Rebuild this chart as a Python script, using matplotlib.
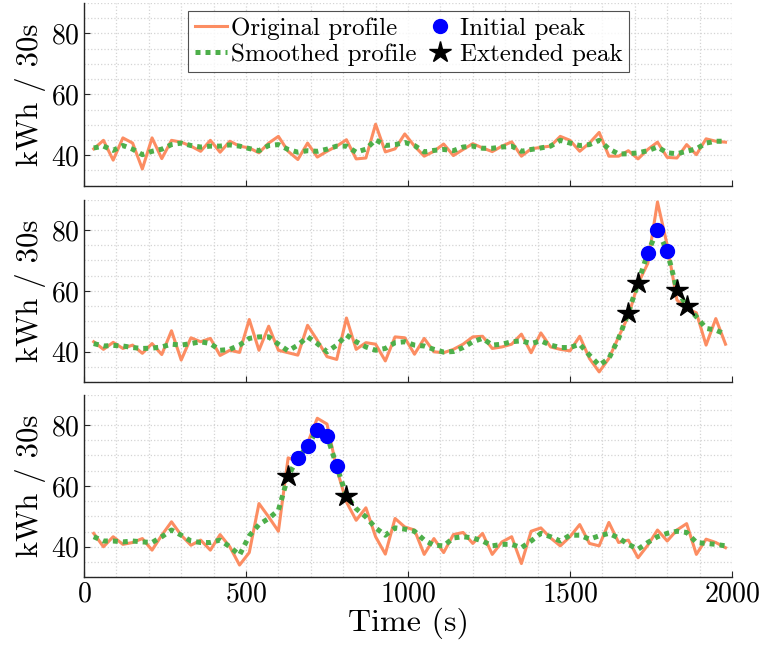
import numpy as np
import matplotlib
matplotlib.use("Agg")
import matplotlib.pyplot as plt

plt.rcParams['font.family'] = 'serif'
plt.rcParams['font.serif'] = ['cmr10']
plt.rcParams['mathtext.fontset'] = 'cm'
plt.rcParams['axes.formatter.use_mathtext'] = True

### Data (kWh per 30 s interval)
t = np.arange(30, 1981, 30)

orig_1 = [42.1, 44.9, 38.4, 45.7, 44.0, 35.5, 45.7, 38.9, 44.9, 44.3,
          43.0, 41.3, 44.9, 41.0, 44.6, 43.0, 42.4, 40.8, 44.0, 46.2,
          41.3, 38.6, 44.0, 39.4, 41.3, 43.0, 45.1, 38.8, 39.1, 50.2,
          41.1, 42.1, 47.0, 43.0, 39.7, 41.3, 43.7, 39.9, 41.9, 43.8,
          42.4, 41.2, 43.0, 44.4, 39.7, 42.1, 42.6, 43.0, 46.2, 44.9,
          41.3, 44.0, 47.5, 39.7, 39.7, 41.5, 38.8, 41.9, 44.3, 39.3,
          39.1, 43.5, 40.2, 45.4, 44.6, 44.3]
smooth_1 = [42.4, 43.0, 41.6, 43.2, 42.0, 40.2, 41.3, 42.0, 43.5, 44.0,
            43.2, 42.7, 43.0, 43.0, 43.4, 43.0, 42.2, 41.5, 43.2, 43.5,
            41.9, 41.0, 41.5, 41.3, 42.0, 43.0, 43.0, 41.0, 42.0, 45.1,
            43.2, 43.5, 44.2, 43.2, 41.1, 41.6, 41.9, 41.5, 42.7, 43.0,
            42.3, 42.3, 42.7, 43.0, 41.3, 41.9, 42.4, 43.0, 44.9, 44.0,
            43.2, 43.5, 44.9, 42.1, 40.4, 40.5, 40.8, 41.5, 42.7, 40.8,
            40.5, 41.3, 42.1, 44.0, 44.6, 44.6]

orig_2 = [43.3, 40.8, 43.1, 41.1, 42.2, 39.5, 42.7, 39.1, 46.9, 37.3,
          44.6, 43.3, 44.4, 38.8, 40.5, 39.8, 50.6, 40.5, 48.4, 40.5,
          39.7, 38.9, 48.7, 43.8, 38.4, 37.5, 51.1, 40.8, 43.0, 42.5,
          37.0, 44.9, 44.6, 39.2, 44.4, 40.0, 39.7, 40.8, 42.5, 44.9,
          45.1, 41.1, 41.6, 42.5, 45.8, 39.7, 46.2, 41.6, 40.8, 40.3,
          45.1, 37.8, 33.4, 37.8, 44.9, 51.7, 62.4, 69.0, 89.2, 75.0,
          57.0, 54.2, 52.8, 42.2, 50.9, 42.5]
smooth_2 = [42.7, 41.9, 42.1, 41.9, 41.4, 41.1, 41.2, 41.6, 42.5, 42.2,
            42.7, 43.3, 42.7, 40.5, 40.8, 42.2, 44.4, 44.9, 44.9, 42.5,
            40.3, 42.2, 44.9, 42.7, 40.0, 42.2, 45.5, 43.3, 41.6, 40.5,
            41.1, 43.0, 43.3, 42.2, 41.9, 40.8, 39.9, 40.1, 41.4, 43.3,
            44.4, 42.2, 42.5, 43.3, 43.6, 42.7, 43.6, 42.2, 41.4, 41.4,
            42.5, 38.9, 35.6, 37.8, 44.4, 52.8, 62.6, 72.5, 80.1, 73.0,
            60.4, 55.0, 51.5, 47.7, 47.1, 45.8]

orig_3 = [44.4, 40.0, 43.3, 40.8, 41.4, 42.7, 38.9, 43.8, 48.2, 43.8,
          40.5, 42.2, 38.9, 44.0, 40.0, 34.0, 38.1, 54.2, 49.8, 45.1,
          69.2, 68.0, 74.0, 82.2, 80.3, 65.6, 54.7, 48.7, 52.8, 43.3,
          37.6, 49.3, 46.5, 45.5, 37.5, 42.7, 38.1, 44.0, 44.7, 41.1,
          44.4, 37.5, 41.6, 43.3, 34.5, 45.1, 46.2, 42.9, 40.3, 43.3,
          47.3, 41.1, 40.3, 48.0, 41.4, 42.2, 36.4, 40.5, 45.5, 41.9,
          45.5, 47.6, 37.5, 42.5, 41.4, 39.7]
smooth_3 = [43.3, 41.9, 41.9, 41.6, 41.9, 41.6, 41.4, 43.3, 45.5, 43.8,
            41.9, 41.4, 41.4, 42.2, 40.0, 37.3, 43.6, 47.3, 49.3, 52.0,
            63.2, 69.2, 73.0, 78.5, 76.5, 66.5, 56.7, 52.5, 49.8, 46.2,
            43.8, 46.2, 45.8, 45.1, 42.2, 40.5, 40.3, 42.9, 43.3, 42.9,
            41.9, 40.3, 40.8, 40.8, 39.7, 41.9, 44.4, 43.3, 41.9, 43.8,
            43.8, 42.5, 43.6, 44.4, 42.9, 40.8, 39.2, 41.4, 43.3, 44.4,
            45.1, 44.7, 41.4, 41.1, 40.8, 40.3]

# peak times for panels 2 and 3 (markers sit on the smoothed profile)
initial_2 = [1740, 1770, 1800]
extended_2 = [1680, 1710, 1830, 1860]
initial_3 = [660, 690, 720, 750, 780]
extended_3 = [630, 810]

origs = [orig_1, orig_2, orig_3]
smooths = [smooth_1, smooth_2, smooth_3]
initials = [[], initial_2, initial_3]
extendeds = [[], extended_2, extended_3]

c_orig = '#fc8d62'
c_smooth = '#4daf4a'

fig = plt.figure(figsize=(7.61, 6.48), dpi=100)
tops = [0.9954, 0.6921, 0.3912]
h = 0.2820
axes = []
for i in range(3):
    ax = fig.add_axes([0.1104, tops[i] - h, 0.8515, h])
    axes.append(ax)
    o = np.array(origs[i])
    s = np.array(smooths[i])
    ax.plot(t, o, color=c_orig, lw=2.2, label='Original profile', zorder=3)
    ax.plot(t, s, color=c_smooth, lw=3.6, ls=(0, (1, 1)),
            label='Smoothed profile', zorder=4)
    idx_i = [list(t).index(v) for v in initials[i]]
    idx_e = [list(t).index(v) for v in extendeds[i]]
    ax.plot(t[idx_i], s[idx_i], 'o', color='blue', ms=10, ls='none',
            label='Initial peak', zorder=5)
    ax.plot(t[idx_e], s[idx_e], '*', color='black', ms=16, ls='none',
            label='Extended peak', zorder=5)

    ax.set_xlim(0, 2000)
    ax.set_ylim(30, 90)
    ax.set_yticks([40, 60, 80])
    ax.set_xticks([0, 500, 1000, 1500, 2000])
    ax.set_xticks(np.arange(0, 2001, 100), minor=True)
    ax.set_yticks(np.arange(30, 91, 5), minor=True)
    ax.grid(True, which='both', color='#d4d4d4', ls=':', lw=0.9)
    ax.tick_params(which='both', direction='in', labelsize=20, length=4,
                   color='#262626', pad=3)
    ax.tick_params(which='minor', length=0)
    ax.spines['top'].set_visible(False)
    ax.spines['right'].set_visible(False)
    for sp in ['left', 'bottom']:
        ax.spines[sp].set_color('#262626')
        ax.spines[sp].set_linewidth(1.0)
    ax.set_ylabel('kWh / 30s', fontsize=22, labelpad=4)
    if i < 2:
        ax.tick_params(labelbottom=False)

axes[2].set_xlabel('Time (s)', fontsize=23, labelpad=0)

h_, l_ = axes[1].get_legend_handles_labels()
leg = axes[0].legend(h_, l_, ncol=2, loc='upper center',
                     bbox_to_anchor=(0.501, 0.955), fontsize=18,
                     frameon=True, fancybox=False, edgecolor='#262626',
                     handlelength=1.3, handletextpad=0.15, columnspacing=0.3,
                     borderpad=0.25, labelspacing=0.15, borderaxespad=0)
leg.get_frame().set_linewidth(0.8)

plt.savefig('out.png', dpi=100)
